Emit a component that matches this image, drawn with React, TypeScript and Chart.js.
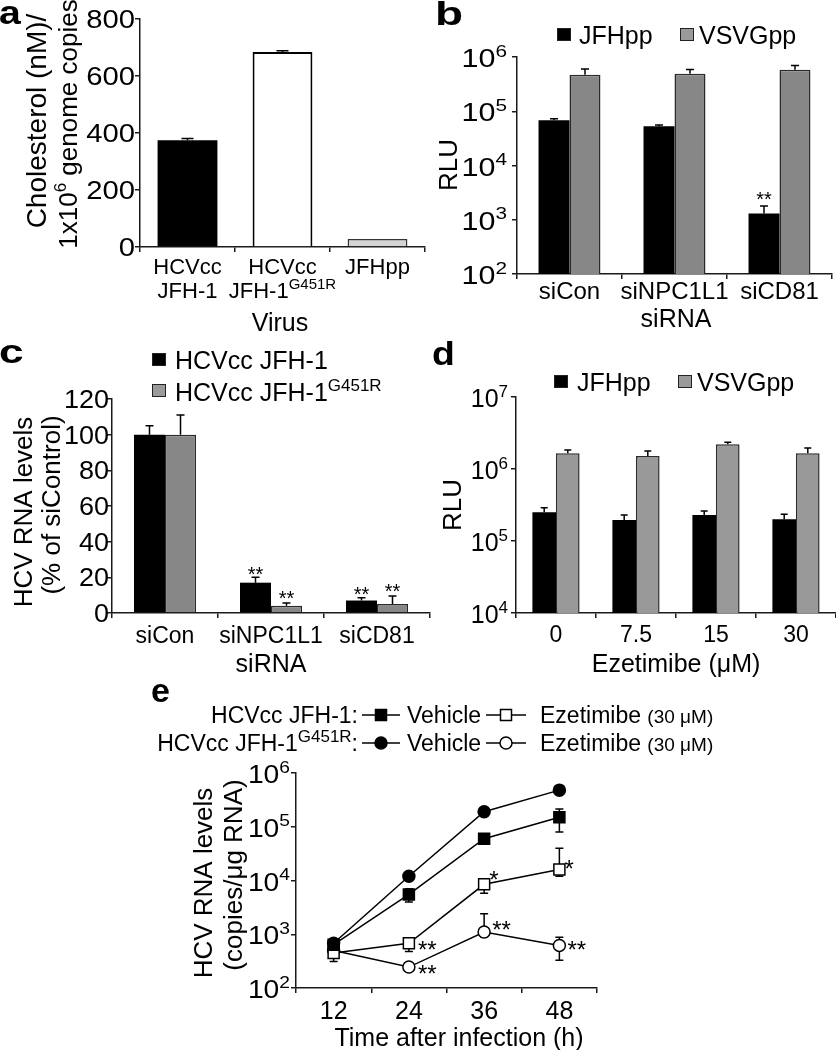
import React, { useEffect, useRef } from 'react';
import { Chart, registerables } from 'chart.js';

Chart.register(...registerables);

const FONT = '"Liberation Sans", Arial, Helvetica, sans-serif';
const PAGE_W = 836;
const PAGE_H = 1050;
const AXIS = '#1a1a1a';

// ---------------- Panel a ----------------
const aCategories = ['HCVcc JFH-1', 'HCVcc JFH-1 G451R', 'JFHpp'];
const aCategoryLines = [['HCVcc', 'JFH-1'], ['HCVcc', 'JFH-1^{G451R}'], ['JFHpp']];
const aValues = [375, 684, 28];
const aErrTop = [381, 689, 28];
const aTicks = [0, 200, 400, 600, 800];

// ---------------- Panel b ----------------
const bCategories = ['siCon', 'siNPC1L1', 'siCD81'];
const bJFHpp = [68000, 53000, 1300];
const bJFHppErr = [73000, 56000, 1800];
const bVSVGpp = [470000, 490000, 580000];
const bVSVGppErr = [600000, 590000, 700000];
const bJFHppStars = ['', '', '**'];
const bTicks = [1e2, 1e3, 1e4, 1e5, 1e6];

// ---------------- Panel c ----------------
const cCategories = ['siCon', 'siNPC1L1', 'siCD81'];
const cJFH1 = [100, 17, 7];
const cJFH1Err = [105, 20, 8.5];
const cG451R = [100, 4, 5];
const cG451RErr = [111, 5.6, 9.6];
const cJFH1Stars = ['', '**', '**'];
const cG451RStars = ['', '**', '**'];
const cTicks = [0, 20, 40, 60, 80, 100, 120];

// ---------------- Panel d ----------------
const dCategories = ['0', '7.5', '15', '30'];
const dJFHpp = [250000, 195000, 230000, 200000];
const dJFHppErr = [290000, 230000, 260000, 235000];
const dVSVGpp = [1660000, 1510000, 2200000, 1660000];
const dVSVGppErr = [1830000, 1780000, 2360000, 1950000];
const dTicks = [1e4, 1e5, 1e6, 1e7];

// ---------------- Panel e ----------------
const eTimes = ['12', '24', '36', '48'];
const eJFH1Vehicle = [640, 5500, 60000, 150000];
const eJFH1Eze = [450, 680, 8500, 16000];
const eG451RVehicle = [680, 12000, 190000, 480000];
const eG451REze = [500, 245, 1100, 620];
const eJFH1VehicleErr: (number[] | null)[] = [null, [4000, 7000], null, [80000, 215000]];
const eJFH1EzeErr: (number[] | null)[] = [[310, 560], [480, 800], [5800, 10000], [12000, 40000]];
const eG451RVehicleErr: (number[] | null)[] = [null, null, null, null];
const eG451REzeErr: (number[] | null)[] = [null, null, [900, 2400], [330, 880]];
const eJFH1EzeStars = ['', '**', '*', '*'];
const eG451REzeStars = ['', '**', '**', '**'];
const eTicks = [1e2, 1e3, 1e4, 1e5, 1e6];

// ---------------- helpers ----------------
type Area = { left: number; top: number; right: number; bottom: number };
type Part = { t: string; sup?: boolean; size?: number };
type Align = 'left' | 'center' | 'right';

function font(size: number, bold = false) {
  return `${bold ? 'bold ' : ''}${size}px ${FONT}`;
}

function parse(s: string): Part[] {
  const parts: Part[] = [];
  const re = /\^\{([^}]*)\}/g;
  let last = 0;
  let m: RegExpExecArray | null;
  while ((m = re.exec(s))) {
    if (m.index > last) parts.push({ t: s.slice(last, m.index) });
    parts.push({ t: m[1], sup: true });
    last = m.index + m[0].length;
  }
  if (last < s.length) parts.push({ t: s.slice(last) });
  return parts;
}

function rich(
  ctx: CanvasRenderingContext2D,
  parts: Part[],
  x: number,
  cy: number,
  size: number,
  align: Align = 'left',
  bold = false,
  sx = 1,
  supRatio = 0.66
) {
  const supSize = Math.round(size * supRatio);
  const sizes = parts.map((p) => (p.sup ? supSize : p.size ?? size));
  const widths = parts.map((p, i) => {
    ctx.font = font(sizes[i], bold);
    return ctx.measureText(p.t).width * sx;
  });
  const total = widths.reduce((a, b) => a + b, 0);
  let cx = align === 'left' ? x : align === 'center' ? x - total / 2 : x - total;
  const base = cy + size * 0.36;
  ctx.textAlign = 'left';
  ctx.textBaseline = 'alphabetic';
  ctx.fillStyle = '#000';
  parts.forEach((p, i) => {
    ctx.font = font(sizes[i], bold);
    ctx.save();
    ctx.translate(cx, p.sup ? base - size * 0.42 : base);
    ctx.scale(sx, 1);
    ctx.fillText(p.t, 0, 0);
    ctx.restore();
    cx += widths[i];
  });
}

function text(ctx: CanvasRenderingContext2D, s: string, x: number, cy: number, size: number, align: Align = 'center', bold = false, sx = 1, supRatio = 0.66) {
  rich(ctx, parse(s), x, cy, size, align, bold, sx, supRatio);
}

function rotatedText(ctx: CanvasRenderingContext2D, s: string, x: number, cy: number, size: number) {
  ctx.save();
  ctx.translate(x, cy);
  ctx.rotate(-Math.PI / 2);
  rich(ctx, parse(s), 0, 0, size, 'center');
  ctx.restore();
}

function panelLetter(ctx: CanvasRenderingContext2D, s: string, x: number, cy: number, sx: number) {
  text(ctx, s, x, cy, 34, 'left', true, sx);
}

function stars(ctx: CanvasRenderingContext2D, s: string, x: number, cy: number, size: number, align: 'left' | 'center' = 'center') {
  if (!s) return;
  ctx.font = font(size);
  ctx.fillStyle = '#000';
  ctx.textAlign = align;
  ctx.textBaseline = 'alphabetic';
  ctx.fillText(s, x, cy + size * 0.57);
}

function legendSquare(ctx: CanvasRenderingContext2D, x: number, cy: number, fill: string) {
  ctx.fillStyle = fill;
  ctx.fillRect(x, cy - 7, 14, 13);
  ctx.strokeStyle = '#222';
  ctx.lineWidth = 1;
  ctx.strokeRect(x + 0.5, cy - 6.5, 13, 12);
}

function logLabels(ctx: CanvasRenderingContext2D, chart: Chart, ticks: number[], right: number, size: number, sx: number) {
  const ys = chart.scales.y;
  ticks.forEach((v) => {
    const y = ys.getPixelForValue(v);
    const exp = Math.round(Math.log10(v));
    rich(ctx, [{ t: '10' }, { t: String(exp), sup: true }], right, y + 1, size, 'right', false, sx);
  });
}

function linLabels(ctx: CanvasRenderingContext2D, chart: Chart, ticks: number[], right: number, size: number, sx: number) {
  const ys = chart.scales.y;
  ticks.forEach((v) => {
    text(ctx, String(v), right, ys.getPixelForValue(v), size, 'right', false, sx);
  });
}

function catLabels(ctx: CanvasRenderingContext2D, chart: Chart, labels: string[], cy: number, size: number) {
  const xs = chart.scales.x;
  labels.forEach((l, i) => text(ctx, l, xs.getPixelForValue(i), cy, size, 'center'));
}

function barErrors(ctx: CanvasRenderingContext2D, chart: Chart, di: number, tops: number[], cap: number) {
  const meta = chart.getDatasetMeta(di);
  const ys = chart.scales.y;
  ctx.save();
  ctx.strokeStyle = '#000';
  ctx.lineWidth = 1.5;
  meta.data.forEach((el: any, i: number) => {
    const yt = ys.getPixelForValue(tops[i]);
    if (Math.abs(yt - el.y) < 0.5) return;
    ctx.beginPath();
    ctx.moveTo(el.x, el.y);
    ctx.lineTo(el.x, yt);
    ctx.moveTo(el.x - cap / 2, yt);
    ctx.lineTo(el.x + cap / 2, yt);
    ctx.stroke();
  });
  ctx.restore();
}

function axisOpts(extra: any) {
  const grid = { display: true, drawOnChartArea: false, drawTicks: true, tickLength: 5, color: AXIS, lineWidth: 1.5, ...(extra.grid || {}) };
  return {
    border: { display: true, color: AXIS, width: 1.5 },
    ticks: { display: false },
    ...extra,
    grid,
  };
}

function fixedTicks(values: number[]) {
  return (scale: any) => {
    scale.ticks = values.map((v) => ({ value: v }));
  };
}

function createPanel(
  canvas: HTMLCanvasElement,
  type: any,
  data: any,
  scales: any,
  target: Area,
  hooks: { before?: (c: Chart, ctx: CanvasRenderingContext2D) => void; after?: (c: Chart, ctx: CanvasRenderingContext2D) => void; last?: (c: Chart, ctx: CanvasRenderingContext2D) => void }
) {
  const config: any = {
    type,
    data,
    options: {
      responsive: false,
      maintainAspectRatio: false,
      animation: false,
      devicePixelRatio: 1,
      events: [],
      layout: { padding: { left: target.left, top: target.top, right: PAGE_W - target.right, bottom: PAGE_H - target.bottom } },
      plugins: { legend: { display: false }, tooltip: { enabled: false }, title: { display: false } },
      scales,
    },
    plugins: [
      {
        id: 'overlay',
        beforeDatasetsDraw: (c: Chart) => hooks.before && hooks.before(c, c.ctx),
        afterDatasetsDraw: (c: Chart) => hooks.after && hooks.after(c, c.ctx),
        afterDraw: (c: Chart) => hooks.last && hooks.last(c, c.ctx),
      },
    ],
  };
  const chart = new Chart(canvas, config);
  const a = chart.chartArea;
  const p = (chart.config.options as any).layout.padding;
  (chart.config.options as any).layout.padding = {
    left: p.left + (target.left - a.left),
    top: p.top + (target.top - a.top),
    right: p.right + (a.right - target.right),
    bottom: p.bottom + (a.bottom - target.bottom),
  };
  chart.update();
  return chart;
}

// ---------------- panels ----------------
function panelA(canvas: HTMLCanvasElement) {
  return createPanel(
    canvas,
    'bar',
    {
      labels: aCategories,
      datasets: [
        {
          data: aValues,
          backgroundColor: ['#000000', '#ffffff', '#d4d4d4'],
          borderColor: ['#000000', '#000000', '#333333'],
          borderWidth: [0, 2, 1.5],
          categoryPercentage: 0.63,
          barPercentage: 1,
        },
      ],
    },
    {
      x: axisOpts({ type: 'category', offset: true, grid: { offset: true } }),
      y: axisOpts({ type: 'linear', min: 0, max: 800, afterBuildTicks: fixedTicks(aTicks) }),
    },
    { left: 140, top: 19, right: 425, bottom: 247 },
    {
      after: (c, ctx) => barErrors(ctx, c, 0, aErrTop, 12),
      last: (c, ctx) => {
        linLabels(ctx, c, aTicks, 135, 25, 1.17);
        const xs = c.scales.x;
        aCategoryLines.forEach((lines, i) => {
          lines.forEach((l, j) => text(ctx, l, xs.getPixelForValue(i), 266 + j * 24, 22));
        });
        text(ctx, 'Virus', 280, 322, 25);
        rotatedText(ctx, 'Cholesterol (nM)/', 36, 121, 28);
        rotatedText(ctx, '1x10^{6} genome copies', 68, 124, 26);
        panelLetter(ctx, 'a', -1, 12, 1.15);
      },
    }
  );
}

function panelB(canvas: HTMLCanvasElement) {
  return createPanel(
    canvas,
    'bar',
    {
      labels: bCategories,
      datasets: [
        { label: 'JFHpp', data: bJFHpp, backgroundColor: '#000', borderColor: '#000', borderWidth: 0, categoryPercentage: 0.59, barPercentage: 1 },
        { label: 'VSVGpp', data: bVSVGpp, backgroundColor: '#878787', borderColor: '#2a2a2a', borderWidth: 1.5, categoryPercentage: 0.59, barPercentage: 1 },
      ],
    },
    {
      x: axisOpts({ type: 'category', offset: true, grid: { offset: true } }),
      y: axisOpts({ type: 'logarithmic', min: 1e2, max: 1e6, afterBuildTicks: fixedTicks(bTicks) }),
    },
    { left: 517, top: 57, right: 832, bottom: 274 },
    {
      after: (c, ctx) => {
        barErrors(ctx, c, 0, bJFHppErr, 8);
        barErrors(ctx, c, 1, bVSVGppErr, 8);
        const meta = c.getDatasetMeta(0);
        meta.data.forEach((el: any, i: number) => stars(ctx, bJFHppStars[i], el.x, c.scales.y.getPixelForValue(bJFHppErr[i]) - 11, 20));
      },
      last: (c, ctx) => {
        logLabels(ctx, c, bTicks, 507, 25, 1.22);
        catLabels(ctx, c, bCategories, 290, 24);
        text(ctx, 'siRNA', 676, 318, 25);
        rotatedText(ctx, 'RLU', 448, 165, 26);
        legendSquare(ctx, 557, 35, '#000');
        text(ctx, 'JFHpp', 579, 35, 25, 'left');
        legendSquare(ctx, 680, 35, '#9a9a9a');
        text(ctx, 'VSVGpp', 699, 35, 25, 'left');
        panelLetter(ctx, 'b', 435, 13, 1.35);
      },
    }
  );
}

function panelC(canvas: HTMLCanvasElement) {
  return createPanel(
    canvas,
    'bar',
    {
      labels: cCategories,
      datasets: [
        { label: 'HCVcc JFH-1', data: cJFH1, backgroundColor: '#000', borderColor: '#000', borderWidth: 0, categoryPercentage: 0.585, barPercentage: 1 },
        { label: 'HCVcc JFH-1 G451R', data: cG451R, backgroundColor: '#878787', borderColor: '#2a2a2a', borderWidth: 1.5, categoryPercentage: 0.585, barPercentage: 1 },
      ],
    },
    {
      x: axisOpts({ type: 'category', offset: true, grid: { offset: true } }),
      y: axisOpts({ type: 'linear', min: 0, max: 120, afterBuildTicks: fixedTicks(cTicks) }),
    },
    { left: 112, top: 399, right: 430, bottom: 613 },
    {
      after: (c, ctx) => {
        barErrors(ctx, c, 0, cJFH1Err, 8);
        barErrors(ctx, c, 1, cG451RErr, 8);
        const ys = c.scales.y;
        c.getDatasetMeta(0).data.forEach((el: any, i: number) => stars(ctx, cJFH1Stars[i], el.x, ys.getPixelForValue(cJFH1Err[i]) - 8, 20));
        c.getDatasetMeta(1).data.forEach((el: any, i: number) => stars(ctx, cG451RStars[i], el.x, ys.getPixelForValue(cG451RErr[i]) - 9, 20));
      },
      last: (c, ctx) => {
        linLabels(ctx, c, cTicks, 109, 25, 1.08);
        catLabels(ctx, c, cCategories, 635, 23);
        text(ctx, 'siRNA', 271, 663, 25);
        rotatedText(ctx, 'HCV RNA levels', 23, 512, 26);
        rotatedText(ctx, '(% of siControl)', 51, 505, 26);
        legendSquare(ctx, 152, 360, '#000');
        text(ctx, 'HCVcc JFH-1', 175, 360, 25, 'left');
        legendSquare(ctx, 152, 391, '#9a9a9a');
        text(ctx, 'HCVcc JFH-1^{G451R}', 175, 392, 25, 'left');
        panelLetter(ctx, 'c', -1, 351, 1.3);
      },
    }
  );
}

function panelD(canvas: HTMLCanvasElement) {
  return createPanel(
    canvas,
    'bar',
    {
      labels: dCategories,
      datasets: [
        { label: 'JFHpp', data: dJFHpp, backgroundColor: '#000', borderColor: '#000', borderWidth: 0, categoryPercentage: 0.59, barPercentage: 1 },
        { label: 'VSVGpp', data: dVSVGpp, backgroundColor: '#999999', borderColor: '#2a2a2a', borderWidth: 1.5, categoryPercentage: 0.59, barPercentage: 1 },
      ],
    },
    {
      x: axisOpts({ type: 'category', offset: true, grid: { offset: true } }),
      y: axisOpts({ type: 'logarithmic', min: 1e4, max: 1e7, afterBuildTicks: fixedTicks(dTicks) }),
    },
    { left: 516, top: 397, right: 836, bottom: 613 },
    {
      after: (c, ctx) => {
        barErrors(ctx, c, 0, dJFHppErr, 7);
        barErrors(ctx, c, 1, dVSVGppErr, 7);
      },
      last: (c, ctx) => {
        logLabels(ctx, c, dTicks, 508, 25, 1.0);
        catLabels(ctx, c, dCategories, 634, 23);
        text(ctx, 'Ezetimibe (\u03bcM)', 676, 663, 25);
        rotatedText(ctx, 'RLU', 452, 505, 26);
        legendSquare(ctx, 554, 382, '#000');
        text(ctx, 'JFHpp', 577, 382, 25, 'left');
        legendSquare(ctx, 678, 382, '#9a9a9a');
        text(ctx, 'VSVGpp', 697, 382, 25, 'left');
        panelLetter(ctx, 'd', 432, 353, 1.1);
      },
    }
  );
}

function lineMarker(ctx: CanvasRenderingContext2D, kind: 'rect' | 'circle', filled: boolean, x: number, y: number) {
  ctx.save();
  ctx.fillStyle = filled ? '#000' : '#fff';
  ctx.strokeStyle = '#000';
  ctx.lineWidth = 1.5;
  ctx.beginPath();
  if (kind === 'rect') ctx.rect(x - 5.5, y - 5.5, 11, 11);
  else ctx.arc(x, y, 6, 0, Math.PI * 2);
  ctx.fill();
  ctx.stroke();
  ctx.restore();
}

function legendGlyph(ctx: CanvasRenderingContext2D, x1: number, x2: number, y: number, kind: 'rect' | 'circle', filled: boolean) {
  ctx.save();
  ctx.strokeStyle = '#000';
  ctx.lineWidth = 1.5;
  ctx.beginPath();
  ctx.moveTo(x1, y);
  ctx.lineTo(x2, y);
  ctx.stroke();
  ctx.restore();
  lineMarker(ctx, kind, filled, (x1 + x2) / 2, y);
}

function panelE(canvas: HTMLCanvasElement) {
  const common = { borderColor: '#000', borderWidth: 1.5, pointBorderColor: '#000', pointBorderWidth: 1.5, fill: false, tension: 0 };
  const errSets = [eJFH1VehicleErr, eJFH1EzeErr, eG451RVehicleErr, eG451REzeErr];
  return createPanel(
    canvas,
    'line',
    {
      labels: eTimes,
      datasets: [
        { ...common, label: 'JFH-1 Vehicle', data: eJFH1Vehicle, pointStyle: 'rect', pointRadius: 7.8, pointBackgroundColor: '#000' },
        { ...common, label: 'JFH-1 Ezetimibe', data: eJFH1Eze, pointStyle: 'rect', pointRadius: 7.8, pointBackgroundColor: '#fff' },
        { ...common, label: 'G451R Vehicle', data: eG451RVehicle, pointStyle: 'circle', pointRadius: 6, pointBackgroundColor: '#000' },
        { ...common, label: 'G451R Ezetimibe', data: eG451REze, pointStyle: 'circle', pointRadius: 6, pointBackgroundColor: '#fff' },
      ],
    },
    {
      x: axisOpts({ type: 'category', offset: true, grid: { offset: true } }),
      y: axisOpts({ type: 'logarithmic', min: 1e2, max: 1e6, afterBuildTicks: fixedTicks(eTicks) }),
    },
    { left: 296, top: 773, right: 597, bottom: 988 },
    {
      before: (c, ctx) => {
        const xs = c.scales.x;
        const ys = c.scales.y;
        ctx.save();
        ctx.strokeStyle = '#000';
        ctx.lineWidth = 1.5;
        errSets.forEach((set) => {
          set.forEach((e, i) => {
            if (!e) return;
            const x = xs.getPixelForValue(i);
            const y1 = ys.getPixelForValue(e[0]);
            const y2 = ys.getPixelForValue(e[1]);
            ctx.beginPath();
            ctx.moveTo(x, y1);
            ctx.lineTo(x, y2);
            ctx.moveTo(x - 4, y1);
            ctx.lineTo(x + 4, y1);
            ctx.moveTo(x - 4, y2);
            ctx.lineTo(x + 4, y2);
            ctx.stroke();
          });
        });
        ctx.restore();
      },
      after: (c, ctx) => {
        const xs = c.scales.x;
        const ys = c.scales.y;
        const sqOff = [[0, 0], [9, 1], [5, -10], [5, -6]];
        const ciOff = [[0, 0], [9, 1], [8, -8], [8, -1]];
        eJFH1EzeStars.forEach((s, i) => stars(ctx, s, xs.getPixelForValue(i) + sqOff[i][0], ys.getPixelForValue(eJFH1Eze[i]) + sqOff[i][1], 24, 'left'));
        eG451REzeStars.forEach((s, i) => stars(ctx, s, xs.getPixelForValue(i) + ciOff[i][0], ys.getPixelForValue(eG451REze[i]) + ciOff[i][1], 24, 'left'));
      },
      last: (c, ctx) => {
        logLabels(ctx, c, eTicks, 290, 25, 1.13);
        catLabels(ctx, c, eTimes, 1010, 25);
        text(ctx, 'Time after infection (h)', 459, 1037, 25);
        rotatedText(ctx, 'HCV RNA levels', 203, 883, 26);
        rotatedText(ctx, '(copies/\u03bcg RNA)', 233, 875, 26);
        // legend
        text(ctx, 'HCVcc JFH-1:', 358, 715, 23, 'right');
        legendGlyph(ctx, 362, 400, 715, 'rect', true);
        text(ctx, 'Vehicle', 407, 715, 23, 'left');
        legendGlyph(ctx, 486, 526, 715, 'rect', false);
        rich(ctx, [{ t: 'Ezetimibe ' }, { t: '(30 \u03bcM)', size: 19 }], 540, 715, 23, 'left');
        text(ctx, 'HCVcc JFH-1^{G451R}:', 358, 743, 23, 'right', false, 1, 0.74);
        legendGlyph(ctx, 362, 400, 743, 'circle', true);
        text(ctx, 'Vehicle', 407, 743, 23, 'left');
        legendGlyph(ctx, 486, 526, 743, 'circle', false);
        rich(ctx, [{ t: 'Ezetimibe ' }, { t: '(30 \u03bcM)', size: 19 }], 540, 743, 23, 'left');
        panelLetter(ctx, 'e', 151, 690, 1.0);
      },
    }
  );
}

export default function App() {
  const r0 = useRef<HTMLCanvasElement>(null);
  const r1 = useRef<HTMLCanvasElement>(null);
  const r2 = useRef<HTMLCanvasElement>(null);
  const r3 = useRef<HTMLCanvasElement>(null);
  const r4 = useRef<HTMLCanvasElement>(null);
  const refs = [r0, r1, r2, r3, r4];

  useEffect(() => {
    const makers = [panelA, panelB, panelC, panelD, panelE];
    const charts = refs.map((r, i) => (r.current ? makers[i](r.current) : null));
    return () => {
      charts.forEach((c) => c && c.destroy());
    };
  }, []);

  return (
    <div style={{ position: 'absolute', left: 0, top: 0, width: PAGE_W, height: PAGE_H, background: '#fff', overflow: 'hidden' }}>
      {refs.map((r, i) => (
        <canvas key={i} ref={r} width={PAGE_W} height={PAGE_H} style={{ position: 'absolute', left: 0, top: 0, width: PAGE_W, height: PAGE_H }} />
      ))}
    </div>
  );
}
